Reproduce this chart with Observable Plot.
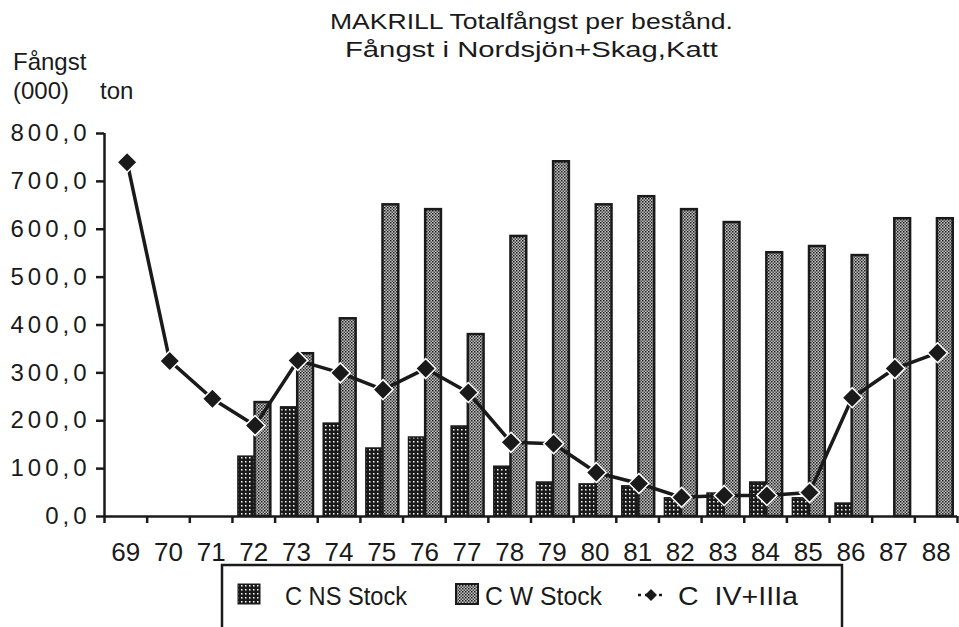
<!DOCTYPE html>
<html><head><meta charset="utf-8">
<script src="https://cdn.jsdelivr.net/npm/d3@7"></script>
<script src="https://cdn.jsdelivr.net/npm/@observablehq/plot@0.6"></script>
<style>
body{margin:0;background:#fff}
svg{font-family:"Liberation Sans",Arial,sans-serif}
g[aria-label="y-axis tick label"] text{letter-spacing:4px}
</style>
</head><body><div id="chart"></div>
<script>
const years    = [69,70,71,72,73,74,75,76,77,78,79,80,81,82,83,84,85,86,87,88];
const nsStock  = [null,null,null,125,228,194,142,165,188,104,71,67,63,38,48,71,38,27,null,null];
const wStock   = [null,null,null,238,340,413,651,641,380,585,741,651,668,641,614,551,564,545,622,622];
const cIV      = [740,325,246,190,326,300,265,309,259,155,152,92,69,40,44,44,50,248,309,342];
const yTicks   = [0,100,200,300,400,500,600,700,800];
const titleLines = ["MAKRILL Totalfångst per bestånd.","Fångst i Nordsjön+Skag,Katt"];
const yLabelLines = ["Fångst","(000)","ton"];
const legendLabels = ["C NS Stock","C W Stock","C  IV+IIIa"];

const ns = years.map((y,i)=>({year:y,v:nsStock[i]})).filter(d=>d.v!=null);
const w  = years.map((y,i)=>({year:y,v:wStock[i]})).filter(d=>d.v!=null);
const c  = years.map((y,i)=>({year:y,v:cIV[i]}));
const bounds = years.concat([years[years.length-1]+1]);

const ink = "#1a1a1a";
const squareDiamond = {draw(ctx, size){ const r = Math.sqrt(size/2); ctx.moveTo(0,-r); ctx.lineTo(r,0); ctx.lineTo(0,r); ctx.lineTo(-r,0); ctx.closePath(); }};

const plot = Plot.plot({
  width:959, height:627,
  marginLeft:104, marginRight:2, marginTop:133, marginBottom:111,
  x:{type:"linear", domain:[bounds[0], bounds[bounds.length-1]], axis:null},
  y:{domain:[0,800], axis:null},
  marks:[
    Plot.rectY(ns,{x1:d=>d.year+0.14, x2:d=>d.year+0.53, y1:0, y2:"v", fill:"url(#patNS)", stroke:ink, strokeWidth:1.5}),
    Plot.rectY(w,{x1:d=>d.year+0.53, x2:d=>d.year+0.9, y1:0, y2:"v", fill:"url(#patW)", stroke:ink, strokeWidth:2.5}),
    Plot.ruleY([0],{stroke:ink, strokeWidth:2.5}),
    Plot.ruleX([bounds[0]],{y1:0,y2:800,stroke:ink, strokeWidth:2.5}),
    Plot.axisY({ticks:yTicks, label:null, tickSize:8, tickPadding:6, tickFormat:d=>d.toFixed(1).replace(".",","), fontSize:24, stroke:ink, strokeWidth:2.5, color:ink}),
    Plot.axisX({ticks:bounds, label:null, tickSize:7, tickFormat:()=>"" , stroke:ink, strokeWidth:2.5}),
    Plot.text(years,{x:d=>d+0.5, y:0, dy:36, text:d=>String(d), fontSize:26, fill:ink}),
    Plot.lineY(c,{x:d=>d.year+0.53, y:"v", stroke:ink, strokeWidth:3.5}),
    Plot.dot(c,{x:d=>d.year+0.53, y:"v", symbol:squareDiamond, r:8, fill:ink, stroke:"white", strokeWidth:1.5})
  ]
});

const svg = d3.select(plot);
const defs = svg.insert("defs",":first-child");
const pNS = defs.append("pattern").attr("id","patNS").attr("patternUnits","userSpaceOnUse").attr("width",4).attr("height",4);
pNS.append("rect").attr("width",4).attr("height",4).attr("fill",ink);
pNS.append("rect").attr("x",1).attr("y",1).attr("width",1.5).attr("height",1.5).attr("fill","#fff");
const pW = defs.append("pattern").attr("id","patW").attr("patternUnits","userSpaceOnUse").attr("width",3).attr("height",3);
pW.append("rect").attr("width",3).attr("height",3).attr("fill","#c4c4c4");
pW.append("rect").attr("width",1.5).attr("height",1.5).attr("fill",ink);
pW.append("rect").attr("x",1.5).attr("y",1.5).attr("width",1.5).attr("height",1.5).attr("fill","#444");

const g = svg.append("g").attr("fill",ink).attr("text-anchor","start");
g.append("text").attr("x",330).attr("y",29).attr("font-size",22).attr("textLength",403).attr("lengthAdjust","spacingAndGlyphs").text(titleLines[0]);
g.append("text").attr("x",345).attr("y",57).attr("font-size",22).attr("textLength",373).attr("lengthAdjust","spacingAndGlyphs").text(titleLines[1]);
g.append("text").attr("x",13).attr("y",70).attr("font-size",24).text(yLabelLines[0]);
g.append("text").attr("x",13).attr("y",99).attr("font-size",24).text(yLabelLines[1]);
g.append("text").attr("x",100).attr("y",99).attr("font-size",24).text(yLabelLines[2]);

// legend
const lg = svg.append("g").attr("text-anchor","start");
lg.append("rect").attr("x",222).attr("y",565).attr("width",620).attr("height",80).attr("fill","none").attr("stroke",ink).attr("stroke-width",2.5);
lg.append("rect").attr("x",238).attr("y",584).attr("width",22).attr("height",20).attr("fill","url(#patNS)").attr("stroke",ink);
lg.append("rect").attr("x",456).attr("y",584).attr("width",22).attr("height",20).attr("fill","url(#patW)").attr("stroke",ink).attr("stroke-width",2);
lg.append("line").attr("x1",638).attr("x2",664).attr("y1",595).attr("y2",595).attr("stroke",ink).attr("stroke-width",2.5).attr("stroke-dasharray","3,4");
lg.append("path").attr("d","M651,589L657,595L651,601L645,595Z").attr("fill",ink);
const lt = [[285,legendLabels[0],122],[485,legendLabels[1],117],[678,legendLabels[2],120]];
lt.forEach(([x,t,len])=>lg.append("text").attr("x",x).attr("y",605).attr("font-size",25).attr("fill",ink)
  .attr("textLength",len).attr("lengthAdjust","spacingAndGlyphs").style("white-space","pre").text(t));

document.getElementById("chart").appendChild(plot);
</script>
</body></html>
